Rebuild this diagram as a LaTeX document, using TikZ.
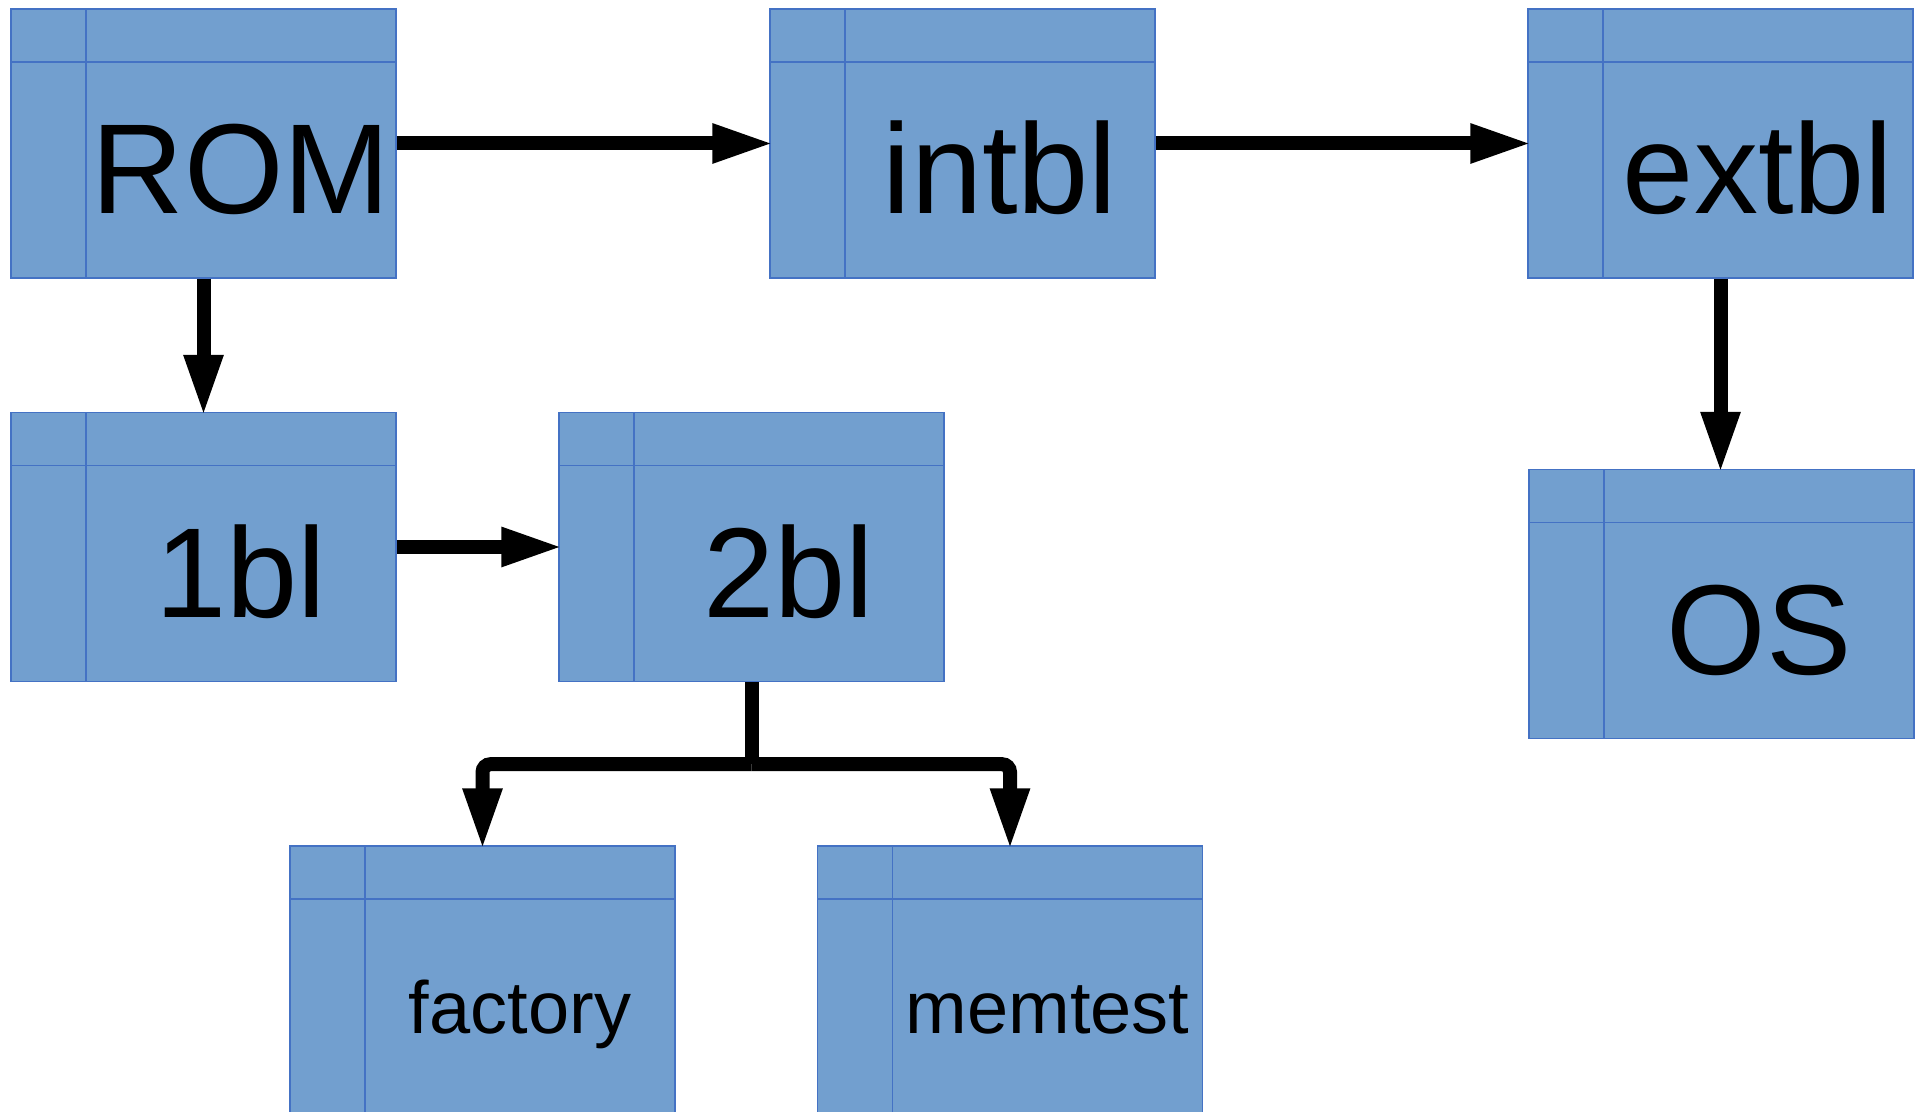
\documentclass[tikz,border=0pt]{standalone}
\usepackage{fontspec}
\setmainfont{Liberation Sans}
\usetikzlibrary{arrows.meta,calc}
\definecolor{tblfill}{HTML}{729FCF}
\definecolor{tblline}{HTML}{4472C4}
% one table-like box: name, centre, label, text style
\newcommand\tblbox[4]{%
\node[tbl] (#1) at (#2) {};
\node[#4] (#1txt) at ($(#1.center)+(18.75pt,-13.25pt)$) {#3};
}

\begin{document}
\begin{tikzpicture}[x=0.5pt,y=0.5pt,
  tbl/.style={rectangle, draw=tblline, fill=tblfill, line width=0.7pt,
    minimum width=192.5pt, minimum height=134.5pt, inner sep=0pt,
    path picture={
      \draw[tblline, line width=0.7pt] ([yshift=-26.5pt]path picture bounding box.north west) -- ([yshift=-26.5pt]path picture bounding box.north east);
      \draw[tblline, line width=0.7pt] ([xshift=37.5pt]path picture bounding box.north west) -- ([xshift=37.5pt]path picture bounding box.south west);
    }},
  bigtxt/.style={font=\fontsize{64}{72}\selectfont, anchor=base, yshift=-22pt, inner sep=0pt},
  smalltxt/.style={font=\fontsize{37}{44}\selectfont, anchor=base, yshift=-13.5pt, inner sep=0pt},
  flow/.style={line width=7pt, shorten >=-2.5pt, -{Triangle[width=18pt,length=31pt]}}]
	%% page size
	\useasboundingbox (0,0) rectangle (1920,1112);
	
	% top row
	\tblbox{rom}{203.5,968.5}{ROM}{bigtxt}
	\tblbox{intbl}{962.5,968.5}{intbl}{bigtxt}
	\tblbox{extbl}{1720.5,968.5}{extbl}{bigtxt}
	
	% middle row
	\tblbox{onebl}{203.5,565}{1bl}{bigtxt}
	\tblbox{twobl}{751.5,565}{2bl}{bigtxt}
	\tblbox{os}{1721.5,508}{OS}{bigtxt}
	
	% bottom row
	\tblbox{factory}{482.5,131.5}{factory}{smalltxt}
	\tblbox{memtest}{1010,131.5}{memtest}{smalltxt}
	
	\draw[flow] (rom.east) -- (intbl.west);
	\draw[flow] (intbl.east) -- (extbl.west);
	\draw[flow] (rom.south) -- (onebl.north);
	\draw[flow] (onebl.east) -- (twobl.west);
	\draw[flow] (extbl.south) -- (extbl.south |- os.north);
	
	% fork below 2bl
	\coordinate (fork) at ($(twobl.south)+(0,-82)$);
	\draw[line width=7pt] (twobl.south) -- (fork);
	\draw[flow, rounded corners=4pt] (fork) -| (factory.north);
	\draw[flow, rounded corners=4pt] (fork) -| (memtest.north);
\end{tikzpicture}
\end{document}
